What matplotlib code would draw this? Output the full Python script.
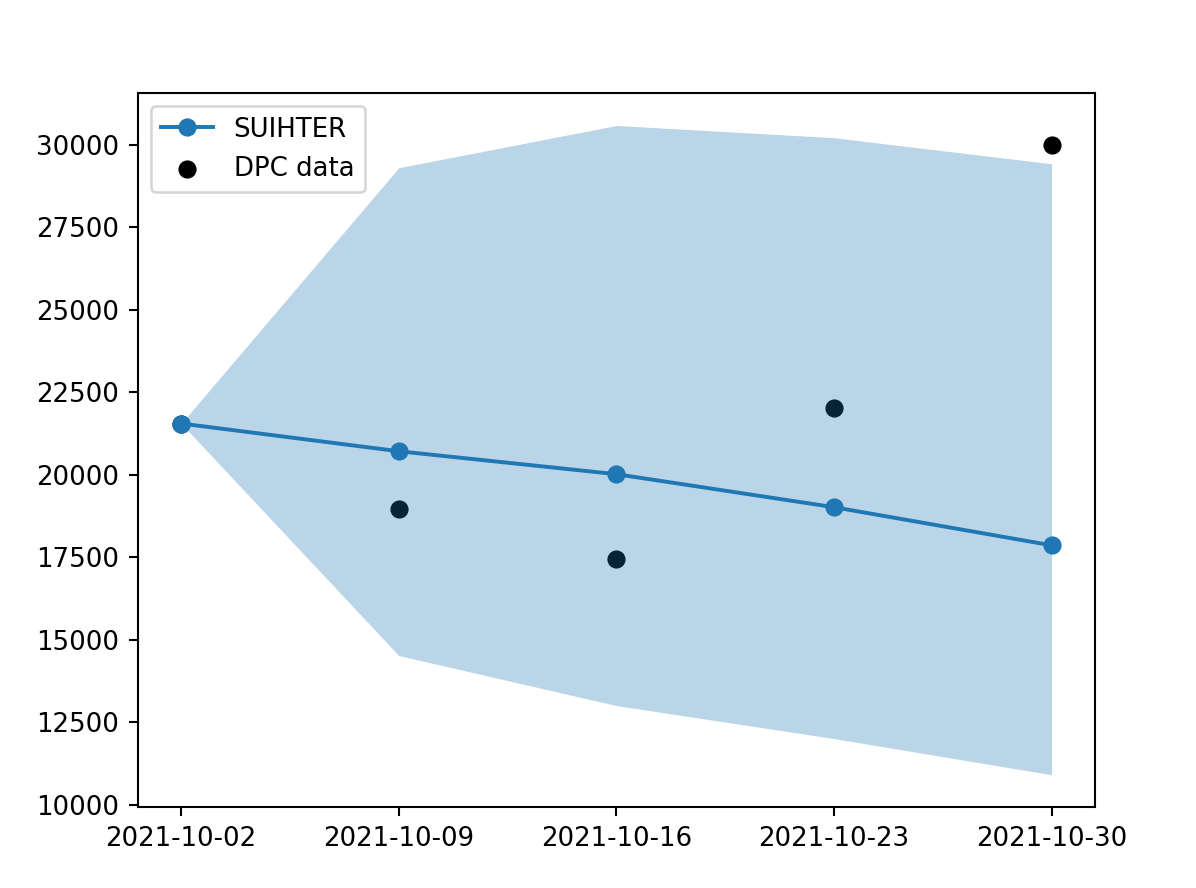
import matplotlib
matplotlib.use('Agg')
import matplotlib.pyplot as plt
import numpy as np

dates = np.array(['2021-10-02', '2021-10-09', '2021-10-16', '2021-10-23', '2021-10-30'],
                 dtype='datetime64[D]')
suihter = [21550, 20710, 20015, 19015, 17860]
band_low = [21550, 14520, 13005, 12005, 10910]
band_high = [21550, 29300, 30580, 30210, 29420]
dpc = [21550, 18950, 17440, 22020, 30000]

fig = plt.figure(figsize=(6.4, 4.75), dpi=187)
ax = fig.add_subplot(111)
fig.subplots_adjust(left=0.115, right=0.915, top=0.895, bottom=0.091)

ax.plot(dates, suihter, 'o-', color='C0', label='SUIHTER')
ax.scatter(dates, dpc, color='black', label='DPC data')
ax.fill_between(dates, band_low, band_high, color='C0', alpha=0.3, linewidth=0)

ax.set_xticks(dates)
ax.set_xticklabels([str(d) for d in dates])
ax.legend(loc='upper left')

plt.savefig('out.png', dpi=187)
